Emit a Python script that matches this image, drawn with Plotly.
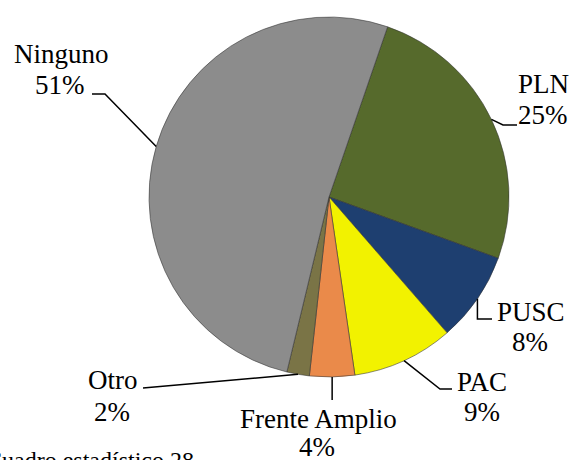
import math
import plotly.graph_objects as go

# ---- data ----
labels = ["PLN", "PUSC", "PAC", "Frente Amplio", "Otro", "Ninguno"]
values = [25, 8, 9, 4, 2, 51]
pct_text = ["25%", "8%", "9%", "4%", "2%", "51%"]
colors = ["#566A2C", "#1E3F70", "#F2F200", "#EA8A4A", "#7A7446", "#8C8C8C"]
source_note = "Cuadro estadístico 28"

# ---- layout constants (pixels) ----
W, H = 571, 460
CX, CY, R = 329, 197, 180
ROTATION = 19
FONT = "Liberation Serif, Times New Roman, serif"
FS = 27

# label anchors: (name center x, name baseline, pct center x, pct baseline)
label_pos = {
    "PLN": (543, 92, 543, 123),
    "PUSC": (531, 320, 530, 350),
    "PAC": (482, 390, 482, 420),
    "Frente Amplio": (318, 427, 317, 455),
    "Otro": (113, 388, 112, 420),
    "Ninguno": (61, 62, 60, 93),
}
# leader line points after the slice-edge start point
leader_pts = {
    "PLN": [(503, 125), (517, 125)],
    "PUSC": [("same", 319), (492, 319)],
    "PAC": [(440, 389), (452, 389)],
    "Frente Amplio": [("same", 400)],
    "Otro": [(143, 388)],
    "Ninguno": [(105, 94), (92, 94)],
}


def px(x):
    return x / W


def py(y):
    return 1 - y / H


fig = go.Figure()
fig.add_trace(go.Pie(
    labels=labels,
    values=values,
    sort=False,
    direction="clockwise",
    rotation=ROTATION,
    marker=dict(colors=colors, line=dict(color="rgba(50,50,50,0.55)", width=1)),
    textinfo="none",
    hoverinfo="label+percent",
    showlegend=False,
    domain=dict(x=[px(CX - R), px(CX + R)], y=[py(CY + R), py(CY - R)]),
))

annotations = []
shapes = []
total = sum(values)
cum = 0
for lab, v, pt in zip(labels, values, pct_text):
    mid = math.radians(ROTATION + 360 * (cum + v / 2) / total)
    cum += v
    sx = CX + R * math.sin(mid)
    sy = CY - R * math.cos(mid)
    pts = [(sx, sy)]
    for (x, y) in leader_pts[lab]:
        pts.append((sx if x == "same" else x, y))
    path = "M " + " L ".join(f"{px(x)},{py(y)}" for x, y in pts)
    shapes.append(dict(type="path", xref="paper", yref="paper", path=path,
                       line=dict(color="black", width=1.5)))
    nx, nb, qx, qb = label_pos[lab]
    for txt, x, b in ((lab, nx, nb), (pt, qx, qb)):
        annotations.append(dict(
            text=txt, x=px(x), y=py(b - 0.3 * FS), xref="paper", yref="paper",
            xanchor="center", yanchor="middle", showarrow=False,
            font=dict(family=FONT, size=FS, color="black"),
        ))

annotations.append(dict(
    text=source_note, x=px(-16), y=py(467 - 0.3 * 24), xref="paper", yref="paper",
    xanchor="left", yanchor="middle", showarrow=False,
    font=dict(family=FONT, size=24, color="black"),
))

fig.update_layout(
    width=W, height=H,
    margin=dict(l=0, r=0, t=0, b=0),
    paper_bgcolor="white",
    plot_bgcolor="white",
    annotations=annotations,
    shapes=shapes,
)

fig.write_html("out.html", config={"displayModeBar": False},
               post_script="document.body.style.margin='0';")
